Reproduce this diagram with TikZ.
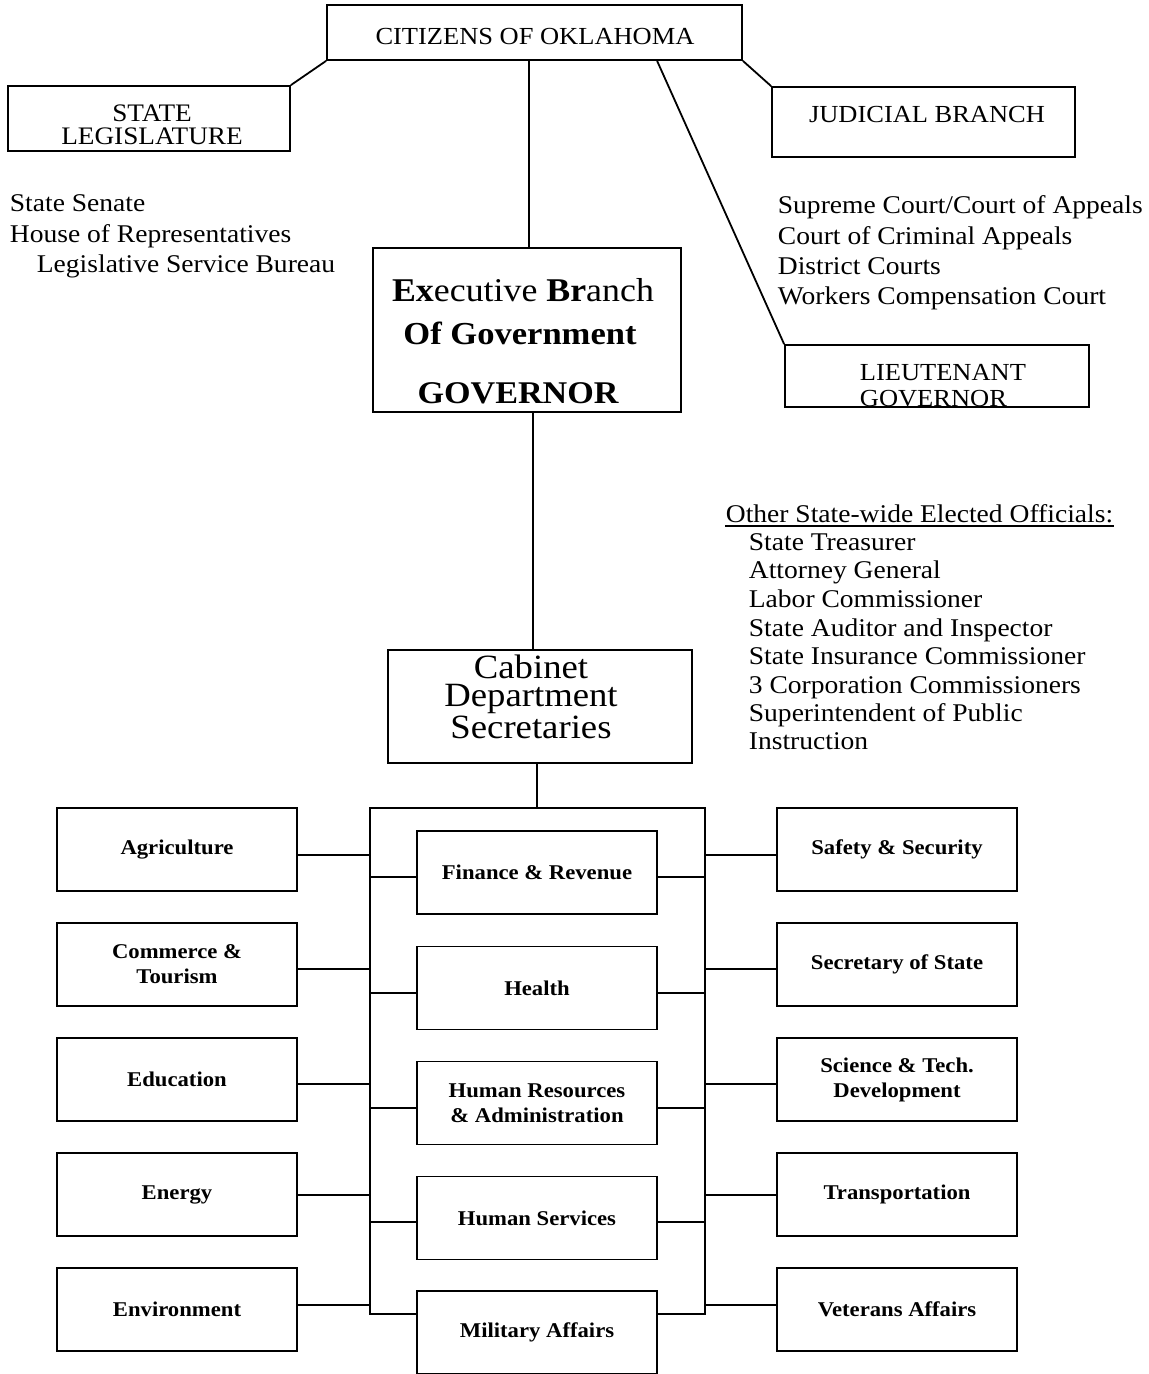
\documentclass[tikz,border=0pt]{standalone}
\usepackage{fontspec}
\setmainfont{Liberation Serif}[FakeStretch=1.08]
\usetikzlibrary{calc}
\begin{document}
\begin{tikzpicture}[x=0.5pt,y=-0.5pt,line width=0.9pt,
  frame/.style={draw,inner sep=0pt},
  box/.style={draw,inner sep=0pt,minimum width=120pt,minimum height=41.5pt,
    align=center,font=\bfseries\fontsize{10.5}{12.5}\selectfont},
  txt/.style={inner sep=0pt,font=\fontsize{12.75}{14}\selectfont},
  caps/.style={inner sep=0pt,font=\fontsize{12.25}{14}\selectfont},
  item/.style={inner sep=0pt,anchor=base west,font=\fontsize{12.75}{14}\selectfont}]
\useasboundingbox (0,0) rectangle (1148,1374);

% ---- top level ----
\node[frame,minimum width=207.5pt,minimum height=27.5pt] (cit) at (534.5,32.5) {};
\node[caps] (citT) at (535,37) {CITIZENS OF OKLAHOMA};

\node[frame,minimum width=141pt,minimum height=32.5pt] (leg) at (149,118.5) {};
\node[txt,align=center,font=\fontsize{12.6}{11.5}\selectfont] (legT) at (152,124.5) {STATE\\LEGISLATURE};

\node[frame,minimum width=151.5pt,minimum height=35pt] (jud) at (923.5,122) {};
\node[caps] (judT) at (927,115) {JUDICIAL BRANCH};

\node[frame,minimum width=154pt,minimum height=82pt] (exec) at (527,330) {};
\node[txt,font=\fontsize{16.6}{18}\selectfont] (exT1) at (523,290) {\textbf{Ex}ecutive \textbf{Br}anch};
\node[txt,font=\bfseries\fontsize{16}{18}\selectfont] (exT2) at (520,333) {Of Government};
\node[txt,font=\bfseries\fontsize{15.8}{18}\selectfont] (exT3) at (518,393) {GOVERNOR};

\node[item,font=\fontsize{12.25}{14}\selectfont] (ltT1) at (859,380) {LIEUTENANT};
\node[item,font=\fontsize{12.25}{14}\selectfont] (ltT2) at (859,406) {GOVERNOR};
\node[frame,minimum width=152pt,minimum height=31pt] (lt) at (937,376) {};

\node[frame,minimum width=152pt,minimum height=56.5pt] (cab) at (540,706.5) {};
\node[txt,align=center,font=\fontsize{17}{14}\selectfont] (cabT) at (531,697) {Cabinet\\Department\\Secretaries};

% ---- lists ----
\node[item] (l1) at (9,212) {State Senate};
\node[item] (l2) at (9,243) {House of Representatives};
\node[item] (l3) at (36,273) {Legislative Service Bureau};

\node[item] (c1) at (777,214) {Supreme Court/Court of Appeals};
\node[item] (c2) at (777,245) {Court of Criminal Appeals};
\node[item] (c3) at (777,275) {District Courts};
\node[item] (c4) at (777,305) {Workers Compensation Court};

\node[item] (oth) at (725,522) {Other State-wide Elected Officials:};
\draw ([yshift=-2pt]oth.base west) -- ([yshift=-2pt]oth.base east);
\node[item] (o1) at (748,550) {State Treasurer};
\node[item] (o2) at (748,578) {Attorney General};
\node[item] (o3) at (748,607) {Labor Commissioner};
\node[item] (o4) at (748,636) {State Auditor and Inspector};
\node[item] (o5) at (748,664) {State Insurance Commissioner};
\node[item] (o6) at (748,693) {3 Corporation Commissioners};
\node[item] (o7) at (748,721) {Superintendent of Public};
\node[item] (o8) at (748,749) {Instruction};

% ---- top connectors ----
\draw (cit.south west) -- (leg.north east);
\draw (cit.south east) -- (jud.north west);
\draw ($(cit.south west)+(331,0)$) -- (lt.north west);
\coordinate (eTop) at ($(exec.north)+(2,0)$);
\draw (eTop |- cit.south) -- (eTop);
\coordinate (eBot) at ($(exec.south)+(6,0)$);
\draw (eBot) -- (eBot |- cab.north);

% ---- cabinet departments ----
\node[box] (agr) at (177,849.5)  {Agriculture};
\node[box] (com) at (177,964.5)  {Commerce \&\\Tourism};
\node[box] (edu) at (177,1079.5) {Education};
\node[box] (ene) at (177,1194.5) {Energy};
\node[box] (env) at (177,1309.5) {Environment};

\node[box] (fin) at (537,872.5)  {Finance \& Revenue};
\node[box] (hea) at (537,988)    {Health};
\node[box] (hra) at (537,1103)   {Human Resources\\\& Administration};
\node[box] (hse) at (537,1218)   {Human Services};
\node[box] (mil) at (537,1332.5) {Military Affairs};

\node[box] (saf) at (897,849.5)  {Safety \& Security};
\node[box] (sec) at (897,964.5)  {Secretary of State};
\node[box] (sci) at (897,1079.5) {Science \& Tech.\\Development};
\node[box] (tra) at (897,1194.5) {Transportation};
\node[box] (vet) at (897,1309.5) {Veterans Affairs};

% frame joining the departments
\coordinate (fTL) at (370,808);
\coordinate (fTR) at (705,808);
\coordinate (cBot) at ($(cab.south)+(-3,0)$);
\draw (cBot) -- (cBot |- fTL);
\draw ($(mil.west)+(0,-18.5)$) coordinate (mL) -- (mL -| fTL) -- (fTL) -- (fTR)
      -- (fTR |- mL) -- ($(mil.east)+(0,-18.5)$);

\foreach \b/\d in {agr/5.5,com/4.5,edu/4.5,ene/0.5,env/-4.5}
  \draw ($(\b.east)+(0,\d)$) coordinate (p) -- (p -| fTL);
\foreach \b/\d in {saf/5.5,sec/4.5,sci/4.5,tra/0.5,vet/-4.5}
  \draw ($(\b.west)+(0,\d)$) coordinate (p) -- (p -| fTR);
\foreach \b/\d in {fin/4.5,hea/5,hra/5,hse/4} {
  \draw ($(\b.west)+(0,\d)$) coordinate (p) -- (p -| fTL);
  \draw ($(\b.east)+(0,\d)$) coordinate (q) -- (q -| fTR);
}
\end{tikzpicture}
\end{document}
